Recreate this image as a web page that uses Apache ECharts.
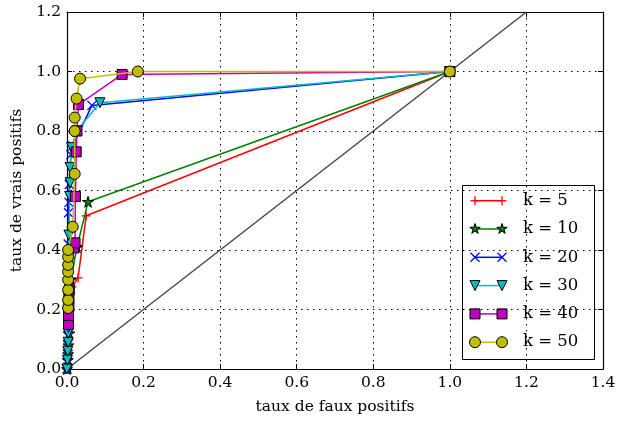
<!DOCTYPE html>
<html><head><meta charset="utf-8">
<script src="https://cdn.jsdelivr.net/npm/echarts@6/dist/echarts.min.js"></script>
<style>html,body{margin:0;padding:0;background:#fff}#c{width:633px;height:421px}</style>
</head><body><div id="c"></div>
<script>
// ---- data ----
const xTickValues = [0.0, 0.2, 0.4, 0.6, 0.8, 1.0, 1.2, 1.4];
const yTickValues = [0.0, 0.2, 0.4, 0.6, 0.8, 1.0, 1.2];
const xTitle = 'taux de faux positifs';
const yTitle = 'taux de vrais positifs';
const seriesNames = ['k = 5', 'k = 10', 'k = 20', 'k = 30', 'k = 40', 'k = 50'];
const diagonal = [[0, 0], [1.2, 1.2]];
const k5 = [[0,0],[0.001,0.02],[0.002,0.04],[0.003,0.06],[0.005,0.1],[0.008,0.2],[0.013,0.276],[0.029,0.306],[0.05,0.515],[1,1]];
const k10 = [[0,0],[0.001,0.01],[0.002,0.03],[0.003,0.05],[0.004,0.08],[0.006,0.12],[0.01,0.3],[0.026,0.41],[0.055,0.562],[1,1]];
const k20 = [[0,0],[0.001,0.02],[0.001,0.05],[0.002,0.08],[0.002,0.11],[0.003,0.14],[0.003,0.42],[0.004,0.525],[0.005,0.56],[0.006,0.62],[0.01,0.72],[0.015,0.75],[0.065,0.886],[1,1]];
const k30 = [[0,0],[0.001,0.03],[0.002,0.06],[0.003,0.09],[0.003,0.12],[0.004,0.14],[0.005,0.45],[0.007,0.58],[0.008,0.626],[0.008,0.677],[0.012,0.744],[0.025,0.8],[0.086,0.895],[1,1]];
const k40 = [[0.004,0.15],[0.004,0.18],[0.005,0.21],[0.005,0.24],[0.006,0.266],[0.018,0.407],[0.021,0.424],[0.022,0.58],[0.024,0.73],[0.026,0.80],[0.03,0.889],[0.144,0.99],[1,1]];
const k50 = [[0.003,0.205],[0.003,0.232],[0.003,0.266],[0.003,0.30],[0.003,0.327],[0.003,0.35],[0.003,0.377],[0.003,0.40],[0.015,0.478],[0.02,0.656],[0.02,0.80],[0.02,0.845],[0.025,0.909],[0.034,0.976],[0.185,1.0],[1,1]];
const seriesData = [k5, k10, k20, k30, k40, k50];
const colors = ['#ff0000', '#008000', '#0000ff', '#00bfbf', '#bf00bf', '#bfbf00'];

// ---- marker shapes ----
function starPts(cx, cy, R) {
  const r = R * 0.381966, pts = [];
  for (let i = 0; i < 10; i++) {
    const a = -Math.PI / 2 + i * Math.PI / 5, rr = i % 2 ? r : R;
    pts.push([cx + rr * Math.cos(a), cy + rr * Math.sin(a)]);
  }
  return pts;
}
const starPath = 'path://' + starPts(50, 50, 50).map((p, i) => (i ? 'L' : 'M') + p[0].toFixed(2) + ',' + p[1].toFixed(2)).join('') + 'Z';
const markers = [
  { symbol: 'path://M0,5L10,5M5,0L5,10', size: 9, rotate: 0, item: { color: colors[0], borderColor: colors[0], borderWidth: 1.3 } },
  { symbol: starPath, size: 11, rotate: 0, item: { color: colors[1], borderColor: '#000', borderWidth: 1 } },
  { symbol: 'path://M0,0L10,10M0,10L10,0', size: 9, rotate: 0, item: { color: colors[2], borderColor: colors[2], borderWidth: 1.3 } },
  { symbol: 'triangle', size: 10, rotate: 180, item: { color: colors[3], borderColor: '#000', borderWidth: 1 } },
  { symbol: 'rect', size: 10, rotate: 0, item: { color: colors[4], borderColor: '#000', borderWidth: 1 } },
  { symbol: 'circle', size: 11, rotate: 0, item: { color: colors[5], borderColor: '#000', borderWidth: 1 } }
];

const FONT = 'DejaVu Serif';
const FS = 15.5;
const fmt = v => v.toFixed(1);

const series = [{
  type: 'line', data: diagonal, showSymbol: false, symbol: 'none', silent: true,
  lineStyle: { color: '#444', width: 1.4 }, z: 1
}];
seriesNames.forEach((n, i) => {
  series.push({
    name: n, type: 'line', data: seriesData[i],
    symbol: markers[i].symbol, symbolSize: markers[i].size, symbolRotate: markers[i].rotate,
    showAllSymbol: true, itemStyle: markers[i].item,
    lineStyle: { color: colors[i], width: 1.5 }, z: 2 + i
  });
});

// ---- legend drawn as graphic ----
const lg = { x: 462, y: 185, w: 132, h: 174, y0: 200.7, dy: 28.3, l1: 475, l2: 502, tx: 523 };
function markerGraphic(i, cx, cy) {
  const c = colors[i];
  if (i === 0) return [{ type: 'polyline', shape: { points: [[cx - 4.5, cy], [cx + 4.5, cy]] }, style: { stroke: c, lineWidth: 1.3 } },
                       { type: 'polyline', shape: { points: [[cx, cy - 4.5], [cx, cy + 4.5]] }, style: { stroke: c, lineWidth: 1.3 } }];
  if (i === 1) return [{ type: 'polygon', shape: { points: starPts(cx, cy, 5.5) }, style: { fill: c, stroke: '#000', lineWidth: 1 } }];
  if (i === 2) return [{ type: 'polyline', shape: { points: [[cx - 4.5, cy - 4.5], [cx + 4.5, cy + 4.5]] }, style: { stroke: c, lineWidth: 1.3 } },
                       { type: 'polyline', shape: { points: [[cx - 4.5, cy + 4.5], [cx + 4.5, cy - 4.5]] }, style: { stroke: c, lineWidth: 1.3 } }];
  if (i === 3) return [{ type: 'polygon', shape: { points: [[cx - 5, cy - 5], [cx + 5, cy - 5], [cx, cy + 5]] }, style: { fill: c, stroke: '#000', lineWidth: 1 } }];
  if (i === 4) return [{ type: 'rect', shape: { x: cx - 5, y: cy - 5, width: 10, height: 10 }, style: { fill: c, stroke: '#000', lineWidth: 1 } }];
  return [{ type: 'circle', shape: { cx: cx, cy: cy, r: 5.5 }, style: { fill: c, stroke: '#000', lineWidth: 1 } }];
}
const legendChildren = [{ type: 'rect', shape: { x: lg.x + 0.5, y: lg.y + 0.5, width: lg.w, height: lg.h }, style: { fill: '#fff', stroke: '#000', lineWidth: 1 } }];
seriesNames.forEach((n, i) => {
  const cy = lg.y0 + lg.dy * i;
  legendChildren.push({ type: 'polyline', shape: { points: [[lg.l1, cy], [lg.l2, cy]] }, style: { stroke: colors[i], lineWidth: 1.5 } });
  markerGraphic(i, lg.l1, cy).concat(markerGraphic(i, lg.l2, cy)).forEach(g => legendChildren.push(g));
  legendChildren.push({ type: 'text', x: lg.tx, y: cy, style: { text: n, fill: '#000', font: '16.5px "' + FONT + '"', verticalAlign: 'middle', align: 'left' } });
});

function axisCommon(extra) {
  return Object.assign({
    type: 'value',
    axisLine: { show: true, onZero: false, lineStyle: { color: '#000', width: 1.2 } },
    axisTick: { show: true, inside: true, length: 5, lineStyle: { color: '#000', width: 1 } },
    splitLine: { show: false }
  }, extra);
}

const option = {
  animation: false,
  backgroundColor: '#fff',
  grid: { left: 67, right: 30, top: 12, bottom: 52, containLabel: false },
  xAxis: [
    axisCommon({
      position: 'bottom', min: xTickValues[0], max: xTickValues[xTickValues.length - 1], interval: 0.2,
      axisLabel: { formatter: fmt, color: '#000', fontFamily: FONT, fontSize: FS, margin: 6 },
      splitLine: { show: true, lineStyle: { color: '#000', type: [1.5, 4.5], width: 1 } },
      name: xTitle, nameLocation: 'middle', nameGap: 30,
      nameTextStyle: { color: '#000', fontFamily: FONT, fontSize: FS }
    }),
    axisCommon({ position: 'top', min: xTickValues[0], max: xTickValues[xTickValues.length - 1], interval: 0.2, axisLabel: { show: false } })
  ],
  yAxis: [
    axisCommon({
      position: 'left', min: yTickValues[0], max: yTickValues[yTickValues.length - 1], interval: 0.2,
      axisLabel: { formatter: fmt, color: '#000', fontFamily: FONT, fontSize: FS, margin: 6 },
      splitLine: { show: true, lineStyle: { color: '#000', type: [1.5, 4.5], width: 1 } },
      name: yTitle, nameLocation: 'middle', nameGap: 33,
      nameTextStyle: { color: '#000', fontFamily: FONT, fontSize: FS }
    }),
    axisCommon({ position: 'right', min: yTickValues[0], max: yTickValues[yTickValues.length - 1], interval: 0.2, axisLabel: { show: false } })
  ],
  series: series,
  graphic: [{ type: 'group', z: 100, children: legendChildren }]
};
const chart = echarts.init(document.getElementById('c'), null, { renderer: 'canvas' });
chart.setOption(option);
</script>
</body></html>
